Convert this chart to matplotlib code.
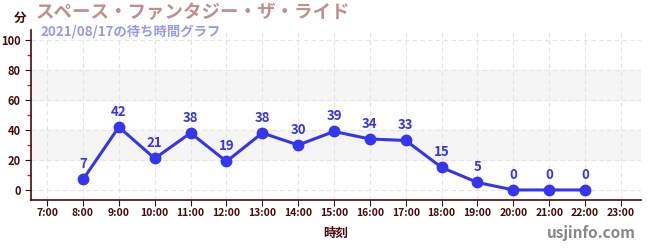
import matplotlib
matplotlib.use("Agg")
import matplotlib.pyplot as plt
from matplotlib.ticker import MultipleLocator

plt.rcParams['font.family'] = ['Noto Sans CJK JP', 'DejaVu Sans']

hours = [8, 9, 10, 11, 12, 13, 14, 15, 16, 17, 18, 19, 20, 21, 22]
waits = [7, 42, 21, 38, 19, 38, 30, 39, 34, 33, 15, 5, 0, 0, 0]
tick_hours = list(range(7, 24))
tick_labels = [f"{h}:00" for h in tick_hours]
title = "スペース・ファンタジー・ザ・ライド"
subtitle = "2021/08/17の待ち時間グラフ"

dark = "#4a0a0a"
blue = "#3535ee"

fig = plt.figure(figsize=(6.5, 2.5), dpi=100)
ax = fig.add_axes([31/650, 50/250, 610/650, 170/250])
ax.set_xlim(6.55, 23.56)
ax.set_ylim(-6.7, 106.7)

for lo, hi in [(20, 40), (60, 80)]:
    ax.axhspan(lo, hi, color="#f5f5f5", zorder=0)

ax.set_xticks(tick_hours)
ax.set_xticklabels(tick_labels)
ax.set_yticks([0, 20, 40, 60, 80, 100])
ax.yaxis.set_minor_locator(MultipleLocator(10))
ax.grid(True, which='major', color="#e4e4e4", linestyle=(0, (4, 3)), linewidth=0.8, zorder=0)
ax.tick_params(axis='y', which='minor', length=3, color="#dd2222", width=1)
ax.tick_params(axis='both', which='major', length=4, color=dark, labelcolor=dark, labelsize=8)
ax.tick_params(axis='x', labelsize=7.5, pad=2)
for lab in ax.get_xticklabels() + ax.get_yticklabels():
    lab.set_fontweight('bold')

for s in ['top', 'right']:
    ax.spines[s].set_visible(False)
for s in ['left', 'bottom']:
    ax.spines[s].set_color(dark)
    ax.spines[s].set_linewidth(1.2)

ax.plot(hours, waits, color=blue, linewidth=2.2, marker='o', markersize=7.5, zorder=3)
for h, w in zip(hours, waits):
    ax.annotate(str(w), (h, w), xytext=(0, 6), textcoords='offset points',
                ha='center', va='bottom', color=blue, fontsize=9.5, fontweight='bold')

ax.set_xlabel("時刻", color=dark, fontsize=9, fontweight='bold', labelpad=6)
fig.text(20/650, 1 - 18/250, "分", color=dark, fontsize=9, fontweight='bold', ha='center', va='center')
fig.text(36/650, 1 - 13/250, title, color="#c09090", fontsize=13.3, fontweight='bold', ha='left', va='center')
fig.text(40/650, 1 - 31/250, subtitle, color="#9999ee", fontsize=9.6, fontweight='bold', ha='left', va='center')
fig.text(636/650, 1 - 233/250, "usjinfo.com", color="#888888", fontsize=11, fontweight='bold', ha='right', va='center')

fig.savefig("out.png", dpi=100)
